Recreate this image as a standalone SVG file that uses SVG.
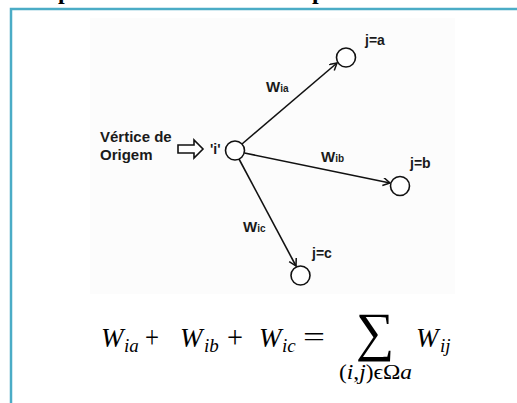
<svg xmlns="http://www.w3.org/2000/svg" width="517" height="403" viewBox="0 0 517 403">
<style>
.lbl{font-family:"Liberation Sans",Arial,sans-serif;font-weight:bold;fill:#1a1a1a}
.node{fill:#fff;stroke:#111;stroke-width:1.6}
.edge{stroke:#111;stroke-width:1.6;fill:none}
.m{font-family:"Liberation Serif","DejaVu Serif",serif;font-style:italic;fill:#000}
.mu{font-family:"Liberation Serif","DejaVu Serif",serif;fill:#000}
</style>
<defs>
<marker id="ah" markerWidth="10" markerHeight="10" refX="8" refY="4" orient="auto" markerUnits="userSpaceOnUse">
<path d="M1,0 L8,4 L1,8" fill="none" stroke="#111" stroke-width="1.5"/>
</marker>
</defs>
<rect width="517" height="403" fill="#fff"/>
<text x="58" y="-1" font-family="Liberation Serif,serif" font-weight="bold" font-size="24">p</text>
<text x="312" y="-1" font-family="Liberation Serif,serif" font-weight="bold" font-size="24">p</text>
<path d="M11,403 V9 H517" fill="none" stroke="#4bacc6" stroke-width="2.5"/>
<rect x="90" y="18" width="365" height="276" fill="#fcfcfc"/>
<g id="connectors">
<line class="edge" x1="242" y1="144" x2="337" y2="63" marker-end="url(#ah)"/>
<line class="edge" x1="244.5" y1="153" x2="390" y2="183" marker-end="url(#ah)"/>
<line class="edge" x1="239" y1="159" x2="296" y2="266" marker-end="url(#ah)"/>
<text class="lbl" x="266" y="92" font-size="15">W<tspan font-size="10">ia</tspan></text>
<text class="lbl" x="321" y="162" font-size="15">W<tspan font-size="10">ib</tspan></text>
<text class="lbl" x="243" y="232" font-size="15">W<tspan font-size="10">ic</tspan></text>
</g>
<g id="origem">
<text class="lbl" x="100" y="142" font-size="15">Vértice de</text>
<text class="lbl" x="100" y="160" font-size="15">Origem</text>
<path d="M178,145 H194 V140 L203,149 L194,158 V153 H178 Z" fill="#fff" stroke="#111" stroke-width="1.6"/>
</g>
<g id="node-i">
<circle class="node" cx="235" cy="150.5" r="9.5"/>
<text class="lbl" x="210" y="154" font-size="14">'i'</text>
</g>
<g id="node-a">
<circle class="node" cx="346" cy="57.5" r="9.5"/>
<text class="lbl" x="365" y="45" font-size="14">j=a</text>
</g>
<g id="node-b">
<circle class="node" cx="400" cy="186" r="9.5"/>
<text class="lbl" x="410" y="168" font-size="14">j=b</text>
</g>
<g id="node-c">
<circle class="node" cx="300.5" cy="275.5" r="9.5"/>
<text class="lbl" x="312" y="258" font-size="14">j=c</text>
</g>
<g id="formula">
<text class="m" x="101" y="347" font-size="27">W</text>
<text class="m" x="124" y="352" font-size="19">ia</text>
<text class="mu" x="145" y="348" font-size="32" textLength="14" lengthAdjust="spacingAndGlyphs">+</text>
<text class="m" x="180" y="347" font-size="27">W</text>
<text class="m" x="204" y="352" font-size="19">ib</text>
<text class="mu" x="227" y="348" font-size="32" textLength="16" lengthAdjust="spacingAndGlyphs">+</text>
<text class="m" x="259" y="347" font-size="27">W</text>
<text class="m" x="282" y="352" font-size="19">ic</text>
<text class="mu" x="303" y="346" font-size="28" textLength="22" lengthAdjust="spacingAndGlyphs">=</text>
<text class="mu" x="356" y="350" font-size="54">∑</text>
<text class="m" x="416" y="347" font-size="27">W</text>
<text class="m" x="440" y="352" font-size="19">ij</text>
<text class="mu" x="339" y="379" font-size="20" textLength="73" lengthAdjust="spacingAndGlyphs">(<tspan class="m">i</tspan>,<tspan class="m">j</tspan>)ϵΩ<tspan class="m">a</tspan></text>
</g>
</svg>
